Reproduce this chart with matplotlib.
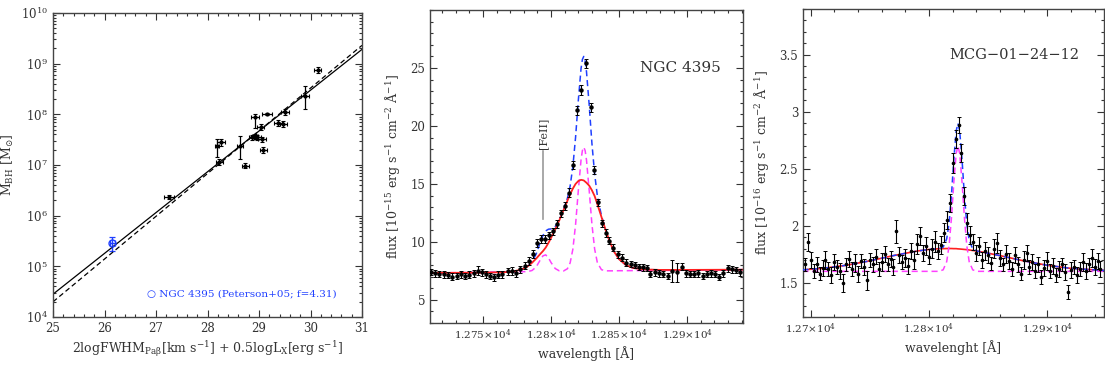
import numpy as np
import matplotlib
matplotlib.use("Agg")
import matplotlib.pyplot as plt
from matplotlib.ticker import MultipleLocator, FuncFormatter, LogLocator, NullFormatter, FixedLocator

plt.rcParams['font.family'] = ['DejaVu Serif', 'DejaVu Sans']
plt.rcParams['mathtext.fontset'] = 'dejavuserif'

# ---- panel 1: M_BH relation ----
x_bh = [27.25, 28.18, 28.26, 28.23, 28.63, 28.73, 28.92, 28.87, 28.93, 28.97,
        29.03, 29.06, 29.15, 29.08, 29.37, 29.47, 29.50, 29.90, 30.14]
logm_bh = [6.36, 7.38, 7.45, 7.05, 7.37, 6.98, 7.94, 7.55, 7.57, 7.55,
           7.74, 7.51, 8.01, 7.29, 7.82, 7.80, 8.04, 8.37, 8.87]
xerr_bh = [0.10, 0.04, 0.08, 0.07, 0.06, 0.07, 0.08, 0.06, 0.06, 0.06,
           0.06, 0.07, 0.10, 0.07, 0.07, 0.07, 0.08, 0.08, 0.07]
ylo_bh = [0.04, 0.23, 0.07, 0.06, 0.25, 0.05, 0.22, 0.05, 0.05, 0.05,
          0.06, 0.05, 0.02, 0.06, 0.06, 0.06, 0.06, 0.26, 0.06]
yhi_bh = [0.04, 0.14, 0.07, 0.06, 0.20, 0.05, 0.07, 0.05, 0.05, 0.05,
          0.06, 0.05, 0.02, 0.06, 0.06, 0.06, 0.06, 0.18, 0.06]
ngc_x, ngc_logm, ngc_xerr, ngc_ylo, ngc_yhi = 26.15, 5.46, 0.05, 0.16, 0.11
fit_x = [25, 31]
fit_solid = [4.45, 9.28]
fit_dashed = [4.30, 9.36]

# ---- panel 2: NGC 4395 ----
lam2 = [12712, 12715, 12718, 12721, 12724, 12727, 12731, 12734, 12737, 12740,
        12743, 12746, 12749, 12752, 12755, 12758, 12761, 12764, 12768, 12771,
        12774, 12777, 12781, 12784, 12787, 12789.5, 12792.5, 12795.5, 12798.5, 12801.5,
        12804.5, 12807.5, 12810.5, 12813.3, 12816.2, 12819, 12822.3, 12825.5, 12829, 12831.5,
        12834.5, 12837.3, 12840, 12842.8, 12845.6, 12849, 12852, 12855.4, 12858.4, 12861.5,
        12864.7, 12867.2, 12870.1, 12873, 12876.3, 12879.4, 12882.4, 12885.6, 12888.5, 12892.2,
        12895.9, 12899, 12902, 12905.2, 12908.1, 12911.3, 12914.3, 12917.4, 12920.4, 12923.5,
        12926.5, 12929.7, 12932.6, 12935.8, 12938.8]
flux2 = [7.41, 7.27, 7.21, 7.21, 7.16, 7.01, 7.07, 7.21, 7.07, 7.16,
         7.27, 7.50, 7.36, 7.21, 7.07, 6.93, 7.16, 7.21, 7.45, 7.50,
         7.27, 7.64, 7.95, 8.35, 8.95, 9.90, 10.25, 10.25, 10.55, 10.90,
         11.55, 12.45, 13.10, 14.25, 16.65, 21.35, 23.10, 25.40, 21.60, 16.20,
         13.40, 11.60, 10.75, 10.10, 9.50, 8.95, 8.65, 8.20, 8.07, 8.01,
         7.84, 7.79, 7.73, 7.21, 7.36, 7.27, 7.21, 7.07, 7.50, 7.36,
         7.84, 7.27, 7.21, 7.21, 7.27, 7.07, 7.21, 7.27, 7.21, 6.98,
         7.27, 7.73, 7.64, 7.56, 7.36]
err2 = [0.28, 0.30, 0.28, 0.30, 0.28, 0.30, 0.28, 0.30, 0.28, 0.30,
        0.30, 0.38, 0.32, 0.30, 0.28, 0.30, 0.30, 0.30, 0.32, 0.34,
        0.30, 0.32, 0.30, 0.32, 0.34, 0.35, 0.32, 0.32, 0.32, 0.32,
        0.32, 0.34, 0.34, 0.36, 0.36, 0.38, 0.40, 0.40, 0.38, 0.36,
        0.34, 0.32, 0.32, 0.32, 0.30, 0.30, 0.30, 0.30, 0.28, 0.28,
        0.28, 0.28, 0.28, 0.26, 0.28, 0.28, 0.28, 0.28, 0.95, 0.85,
        0.30, 0.28, 0.28, 0.28, 0.28, 0.26, 0.28, 0.28, 0.28, 0.28,
        0.28, 0.30, 0.30, 0.28, 0.28]

fit2_lam = [12711, 12750, 12770, 12778, 12783, 12786, 12789, 12792, 12794, 12796,
            12798, 12800, 12803, 12806, 12809, 12812, 12814, 12816, 12818, 12820,
            12822, 12823, 12824, 12825, 12826, 12828, 12830, 12832, 12834, 12837,
            12840, 12843, 12846, 12850, 12855, 12860, 12868, 12880, 12900, 12942]
broad2 = [7.32, 7.34, 7.40, 7.60, 7.90, 8.20, 8.55, 8.95, 9.20, 9.50,
          9.90, 10.35, 11.05, 11.85, 12.70, 13.55, 14.10, 14.60, 15.00, 15.25,
          15.35, 15.33, 15.30, 15.20, 15.10, 14.85, 14.45, 13.95, 13.25, 12.15,
          11.05, 10.05, 9.20, 8.50, 8.00, 7.75, 7.62, 7.58, 7.58, 7.60]
narrow2 = [7.32, 7.37, 7.40, 7.42, 7.44, 7.53, 7.83, 8.43, 8.79, 8.88,
           8.63, 8.21, 7.70, 7.50, 7.48, 7.68, 8.19, 9.37, 11.51, 14.42,
           17.07, 17.88, 18.17, 17.88, 17.07, 14.43, 11.52, 9.38, 8.20, 7.60,
           7.50, 7.50, 7.50, 7.51, 7.51, 7.52, 7.52, 7.53, 7.55, 7.60]
total2 = [7.32, 7.34, 7.40, 7.60, 7.91, 8.29, 8.94, 9.94, 10.55, 10.94,
          11.09, 11.12, 11.30, 11.90, 12.73, 13.77, 14.82, 16.50, 19.04, 22.20,
          24.95, 25.74, 26.00, 25.61, 24.70, 21.80, 18.49, 15.85, 13.97, 12.26,
          11.06, 10.05, 9.20, 8.50, 8.00, 7.75, 7.62, 7.58, 7.58, 7.60]
feii_lam = 12794
feii_line = [12.0, 17.8]
flux2_ticks = [5, 10, 15, 20, 25]

# ---- panel 3: MCG-01-24-12 ----
lam3 = [12695.0, 12697.5, 12700.0, 12702.5, 12705.0, 12707.5, 12710.0, 12712.5, 12715.0, 12717.5,
        12720.0, 12722.5, 12725.0, 12727.5, 12730.0, 12732.5, 12735.0, 12737.5, 12740.0, 12742.5,
        12745.0, 12747.5, 12750.0, 12752.5, 12755.0, 12757.5, 12760.0, 12762.5, 12765.0, 12767.5,
        12770.0, 12772.5, 12775.0, 12777.5, 12780.0, 12782.5, 12785.0, 12787.5, 12790.0, 12792.5,
        12795.0, 12797.5, 12800.0, 12802.5, 12805.0, 12807.5, 12810.0, 12812.5, 12815.0, 12817.5,
        12820.0, 12822.5, 12825.0, 12827.5, 12830.0, 12832.5, 12835.0, 12837.5, 12840.0, 12842.5,
        12845.0, 12847.5, 12850.0, 12852.5, 12855.0, 12857.5, 12860.0, 12862.5, 12865.0, 12867.5,
        12870.0, 12872.5, 12875.0, 12877.5, 12880.0, 12882.5, 12885.0, 12887.5, 12890.0, 12892.5,
        12895.0, 12897.5, 12900.0, 12902.5, 12905.0, 12907.5, 12910.0, 12912.5, 12915.0, 12917.5,
        12920.0, 12922.5, 12925.0, 12927.5, 12930.0, 12932.5, 12935.0, 12937.5, 12940.0, 12942.5,
        12945.0]
flux3 = [1.66, 1.86, 1.70, 1.60, 1.66, 1.58, 1.63, 1.70, 1.62, 1.57,
         1.68, 1.64, 1.60, 1.50, 1.66, 1.71, 1.62, 1.67, 1.58, 1.69,
         1.64, 1.52, 1.70, 1.66, 1.73, 1.62, 1.68, 1.75, 1.66, 1.71,
         1.64, 1.95, 1.74, 1.68, 1.72, 1.65, 1.78, 1.70, 1.84, 1.91,
         1.76, 1.82, 1.73, 1.80, 1.86, 1.78, 1.83, 1.94, 2.05, 2.20,
         2.55, 2.76, 2.88, 2.64, 2.26, 2.02, 1.92, 1.86, 1.76, 1.82,
         1.70, 1.78, 1.74, 1.67, 1.80, 1.85, 1.72, 1.66, 1.75, 1.69,
         1.62, 1.74, 1.66, 1.58, 1.70, 1.76, 1.64, 1.68, 1.60, 1.66,
         1.55, 1.63, 1.69, 1.60, 1.65, 1.57, 1.62, 1.66, 1.59, 1.42,
         1.61, 1.64, 1.57, 1.62, 1.68, 1.60, 1.66, 1.72, 1.64, 1.69,
         1.62]
err3 = [0.06, 0.08, 0.07, 0.06, 0.07, 0.06, 0.07, 0.08, 0.06, 0.07,
        0.07, 0.06, 0.07, 0.08, 0.06, 0.07, 0.06, 0.08, 0.07, 0.06,
        0.07, 0.08, 0.06, 0.07, 0.07, 0.06, 0.08, 0.07, 0.06, 0.07,
        0.07, 0.10, 0.07, 0.06, 0.08, 0.07, 0.07, 0.08, 0.09, 0.08,
        0.07, 0.08, 0.07, 0.08, 0.09, 0.07, 0.08, 0.08, 0.08, 0.08,
        0.09, 0.08, 0.07, 0.08, 0.08, 0.09, 0.08, 0.07, 0.07, 0.08,
        0.07, 0.08, 0.07, 0.06, 0.08, 0.09, 0.07, 0.06, 0.08, 0.07,
        0.06, 0.07, 0.07, 0.06, 0.08, 0.07, 0.06, 0.07, 0.06, 0.07,
        0.06, 0.07, 0.08, 0.06, 0.07, 0.06, 0.07, 0.06, 0.07, 0.06,
        0.07, 0.06, 0.07, 0.06, 0.08, 0.07, 0.06, 0.08, 0.07, 0.07,
        0.07]
fit3_lam = [12693, 12710, 12730, 12750, 12770, 12790, 12800, 12808, 12812, 12815,
            12817, 12819, 12821, 12823, 12824.5, 12826, 12828, 12830, 12832, 12834,
            12837, 12841, 12850, 12860, 12880, 12900, 12920, 12948]
broad3 = [1.613, 1.626, 1.653, 1.692, 1.738, 1.778, 1.792, 1.798, 1.799, 1.800,
          1.800, 1.800, 1.799, 1.799, 1.797, 1.796, 1.794, 1.792, 1.790, 1.787,
          1.783, 1.777, 1.759, 1.738, 1.692, 1.653, 1.626, 1.608]
narrow3 = [1.60, 1.60, 1.60, 1.60, 1.60, 1.60, 1.60, 1.60, 1.613, 1.685,
           1.824, 2.067, 2.378, 2.632, 2.70, 2.632, 2.378, 2.067, 1.824, 1.685,
           1.613, 1.60, 1.60, 1.60, 1.60, 1.60, 1.60, 1.60]
total3 = [1.613, 1.626, 1.653, 1.692, 1.738, 1.778, 1.792, 1.798, 1.812, 1.885,
          2.024, 2.267, 2.577, 2.831, 2.897, 2.828, 2.572, 2.259, 2.014, 1.872,
          1.796, 1.777, 1.759, 1.738, 1.692, 1.653, 1.626, 1.608]

RED = '#ff2020'
MAG = '#ff40ff'
BLUE = '#2040ff'
TXT = '#333333'


def style(ax):
    ax.tick_params(which='both', direction='in', top=True, right=True,
                   colors=TXT, width=0.8)
    ax.tick_params(which='major', length=5)
    ax.tick_params(which='minor', length=2.5)
    for s in ax.spines.values():
        s.set_linewidth(1.0)
        s.set_color('#444444')


fig = plt.figure(figsize=(11.05, 3.69), dpi=100)

# panel 1
ax1 = fig.add_axes([0.048, 0.141, 0.2796, 0.824])
m = 10 ** np.array(logm_bh)
yerr = [m - 10 ** (np.array(logm_bh) - ylo_bh), 10 ** (np.array(logm_bh) + yhi_bh) - m]
ax1.errorbar(x_bh, m, xerr=xerr_bh, yerr=yerr, fmt='o', ms=2, color='k',
             elinewidth=0.9, capsize=1.2, capthick=0.8)
mn = 10 ** ngc_logm
ax1.errorbar([ngc_x], [mn], xerr=ngc_xerr,
             yerr=[[mn - 10 ** (ngc_logm - ngc_ylo)], [10 ** (ngc_logm + ngc_yhi) - mn]],
             fmt='o', ms=5, mfc='none', mec=BLUE, color=BLUE, elinewidth=1.0,
             capsize=2, capthick=0.9)
ax1.plot(fit_x, 10 ** np.array(fit_solid), color='k', lw=0.9)
ax1.plot(fit_x, 10 ** np.array(fit_dashed), color='k', lw=0.9, ls=(0, (4, 2.5)))
ax1.set_yscale('log')
ax1.set_xlim(25, 31)
ax1.set_ylim(1e4, 1e10)
ax1.yaxis.set_major_locator(LogLocator(base=10, numticks=10))
ax1.yaxis.set_minor_locator(LogLocator(base=10, subs=np.arange(2, 10), numticks=20))
ax1.yaxis.set_minor_formatter(NullFormatter())
ax1.xaxis.set_major_locator(MultipleLocator(1))
ax1.xaxis.set_minor_locator(MultipleLocator(0.2))
style(ax1)
ax1.tick_params(labelsize=8.5)
ax1.text(26.82, 10 ** 4.45, '\u25cb NGC 4395 (Peterson+05; f=4.31)', color=BLUE,
         fontsize=7.5, va='center', family=['DejaVu Serif', 'DejaVu Sans'])
ax1.set_ylabel(r'M$_{\rm BH}$ [M$_{\odot}$]', fontsize=9, color=TXT, labelpad=4)
ax1.set_xlabel(r'2logFWHM$_{\rm Pa\beta}$[km s$^{-1}$] + 0.5logL$_{\rm X}$[erg s$^{-1}$]',
               fontsize=9, color=TXT, labelpad=3)

wl_fmt = FuncFormatter(lambda v, p: '{:g}'.format(v / 1e4) + r'$\times$10$^4$')

# panel 2
ax2 = fig.add_axes([0.3891, 0.1247, 0.2833, 0.848])
ax2.plot(fit2_lam, total2, color=BLUE, lw=1.1, ls=(0, (4, 2.5)), zorder=2)
ax2.plot(fit2_lam, narrow2, color=MAG, lw=1.1, ls=(0, (4, 2.5)), zorder=2)
ax2.plot(fit2_lam, broad2, color=RED, lw=1.3, zorder=3)
ax2.errorbar(lam2, flux2, yerr=err2, fmt='o', ms=2.2, color='k',
             elinewidth=0.8, capsize=1.5, capthick=0.7, zorder=4)
ax2.plot([feii_lam, feii_lam], feii_line, color='#999999', lw=1.2)
ax2.text(feii_lam, 19.4, '[FeII]', rotation=90, ha='center', va='center',
         fontsize=8, color=TXT)
ax2.text(12895, 25, 'NGC 4395', ha='center', va='center', fontsize=11, color=TXT)
ax2.set_xlim(12711, 12941)
ax2.set_ylim(3, 30)
ax2.xaxis.set_major_locator(MultipleLocator(50))
ax2.xaxis.set_minor_locator(MultipleLocator(10))
ax2.xaxis.set_major_formatter(wl_fmt)
ax2.yaxis.set_major_locator(FixedLocator(flux2_ticks))
ax2.yaxis.set_minor_locator(MultipleLocator(1))
style(ax2)
ax2.tick_params(axis='x', labelsize=7.5)
ax2.tick_params(axis='y', labelsize=8.5)
ax2.set_xlabel('wavelength [\u00c5]', fontsize=9, color=TXT, labelpad=3)
ax2.set_ylabel(r'flux [10$^{-15}$ erg s$^{-1}$ cm$^{-2}$ $\rm\AA^{-1}$]', fontsize=9,
               color=TXT, labelpad=6)

# panel 3
ax3 = fig.add_axes([0.7267, 0.141, 0.2724, 0.8347])
ax3.plot(fit3_lam, broad3, color=RED, lw=1.2, zorder=2)
ax3.plot(fit3_lam, narrow3, color=MAG, lw=1.1, ls=(0, (4, 2.5)), zorder=2)
ax3.plot(fit3_lam, total3, color=BLUE, lw=1.1, ls=(0, (4, 2.5)), zorder=3)
ax3.errorbar(lam3, flux3, yerr=err3, fmt='o', ms=1.6, color='k',
             elinewidth=0.8, capsize=1.3, capthick=0.7, zorder=4)
ax3.text(12872, 3.5, 'MCG\u221201\u221224\u221212', ha='center', va='center',
         fontsize=10.5, color=TXT)
ax3.set_xlim(12693.5, 12948)
ax3.set_ylim(1.2, 3.9)
ax3.xaxis.set_major_locator(MultipleLocator(100))
ax3.xaxis.set_minor_locator(MultipleLocator(20))
ax3.xaxis.set_major_formatter(wl_fmt)
ax3.yaxis.set_major_locator(MultipleLocator(0.5))
ax3.yaxis.set_minor_locator(MultipleLocator(0.1))
ax3.yaxis.set_major_formatter(FuncFormatter(lambda v, p: '{:g}'.format(v)))
style(ax3)
ax3.tick_params(axis='x', labelsize=7.5)
ax3.tick_params(axis='y', labelsize=8.5)
ax3.set_xlabel('wavelenght [\u00c5]', fontsize=9, color=TXT, labelpad=3)
ax3.set_ylabel(r'flux [10$^{-16}$ erg s$^{-1}$ cm$^{-2}$ $\rm\AA^{-1}$]', fontsize=9,
               color=TXT, labelpad=6)

fig.savefig('out.png', dpi=100)
